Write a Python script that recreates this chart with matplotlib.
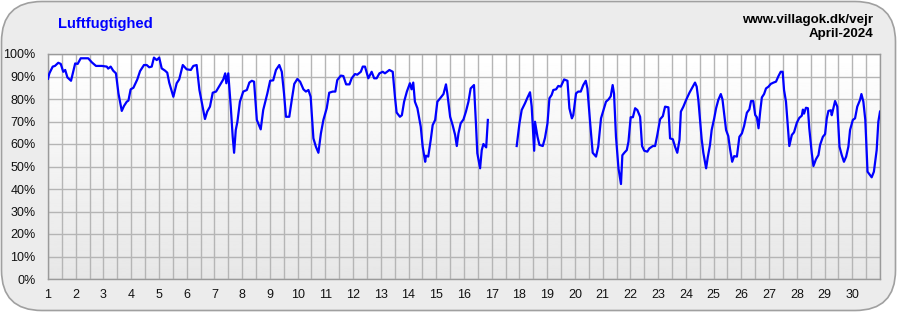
"""
Luftfugtighed, April 2024 (villagok.dk/vejr) - humidity line chart.
"""

import numpy as np
import matplotlib
matplotlib.use("Agg")
import matplotlib.pyplot as plt
from matplotlib.patches import FancyBboxPatch

plt.rcParams["font.family"] = ["Liberation Sans", "DejaVu Sans"]

# day of month (fractional) and relative humidity (%)
DAYS_A = [
    1.00, 1.05, 1.17, 1.25, 1.37, 1.46, 1.55, 1.62, 1.70, 1.83, 1.91, 1.98,
    2.07, 2.18, 2.45, 2.58, 2.73, 2.94, 3.12, 3.17, 3.26, 3.35, 3.45, 3.54,
    3.66, 3.74, 3.84, 3.90, 3.98, 4.08, 4.22, 4.32, 4.46, 4.56, 4.65, 4.74,
    4.82, 4.92, 5.01, 5.10, 5.22, 5.30, 5.37, 5.52, 5.64, 5.73, 5.86, 6.00,
    6.15, 6.24, 6.36, 6.46, 6.54, 6.66, 6.74, 6.84, 6.94, 7.06, 7.20, 7.32,
    7.39, 7.43, 7.50, 7.59, 7.66, 7.71, 7.77, 7.83, 7.92, 8.04, 8.17, 8.26,
    8.35, 8.43, 8.53, 8.67, 8.76, 8.91, 9.01, 9.12, 9.22, 9.34, 9.43, 9.51,
    9.58, 9.70, 9.79, 9.88, 9.99, 10.09, 10.21, 10.30, 10.39, 10.47, 10.57,
    10.66, 10.75, 10.84, 10.93, 11.05, 11.14, 11.27, 11.36, 11.43, 11.56,
    11.65, 11.75, 11.87, 11.95, 12.07, 12.15, 12.28, 12.35, 12.43, 12.55,
    12.67, 12.76, 12.85, 12.95, 13.07, 13.15, 13.31, 13.43, 13.51, 13.57,
    13.69, 13.76, 13.84, 13.94, 14.05, 14.11, 14.17, 14.23, 14.32, 14.44,
    14.51, 14.60, 14.63, 14.71, 14.80, 14.87, 14.96, 15.04, 15.14, 15.26,
    15.35, 15.40, 15.50, 15.59, 15.68, 15.74, 15.80, 15.88, 15.98, 16.07,
    16.16, 16.24, 16.36, 16.43, 16.48, 16.58, 16.64, 16.70, 16.80, 16.86,
]
HUM_A = [
    89.0, 91.4, 94.4, 94.7, 96.1, 95.6, 92.1, 92.9, 89.6, 88.1, 92.1, 95.8,
    95.6, 98.1, 98.1, 96.3, 94.7, 94.7, 94.4, 93.5, 94.4, 92.6, 91.4, 82.5,
    74.7, 76.9, 78.8, 79.3, 84.3, 85.0, 88.7, 92.4, 95.1, 95.1, 94.1, 94.4,
    98.4, 97.3, 98.4, 93.6, 92.6, 91.7, 87.3, 81.0, 87.0, 88.7, 95.1, 93.2,
    92.9, 94.7, 95.1, 84.0, 78.8, 71.1, 74.4, 76.6, 82.8, 83.3, 86.2, 88.7,
    91.4, 87.0, 91.4, 76.6, 63.2, 56.1, 66.2, 69.9, 78.8, 83.3, 84.0, 87.3,
    88.1, 87.7, 70.7, 66.5, 75.1, 82.5, 88.1, 88.3, 92.9, 95.1, 92.1, 82.5,
    72.1, 72.1, 79.6, 86.7, 88.9, 87.7, 84.3, 83.3, 84.0, 81.0, 62.5,
    58.8, 56.1, 64.7, 70.7, 75.9, 82.8, 83.3, 83.3, 88.4, 90.4,
    90.2, 86.5, 86.5, 89.2, 91.1, 90.8, 92.1, 94.4, 94.4, 89.2,
    92.1, 89.2, 89.2, 91.4, 92.1, 91.4, 92.9, 92.1, 81.0, 74.0,
    72.1, 72.8, 78.8, 83.3, 87.0, 84.3, 87.3, 78.8, 75.9, 67.7,
    58.8, 52.1, 54.8, 54.4, 61.8, 68.4, 70.7, 78.8, 80.3, 82.2,
    86.5, 82.4, 72.1, 68.4, 64.0, 59.1, 64.7, 69.2, 70.9, 74.4,
    78.8, 84.7, 86.2, 69.2, 55.9, 49.2, 57.3, 60.0, 58.5, 70.7,
]

DAYS_B = [
    17.90, 18.00, 18.08, 18.20, 18.28, 18.38, 18.44, 18.53, 18.56, 18.65,
    18.72, 18.84, 18.92, 19.01, 19.08, 19.16, 19.22, 19.32, 19.40, 19.49,
    19.61, 19.73, 19.80, 19.89, 19.94, 20.04, 20.12, 20.21, 20.30, 20.39,
    20.45, 20.55, 20.64, 20.76, 20.84, 20.94, 21.03, 21.12, 21.21, 21.29,
    21.36, 21.41, 21.48, 21.57, 21.66, 21.71, 21.78, 21.87, 21.93, 22.01,
    22.09, 22.17, 22.25, 22.35, 22.42, 22.50, 22.61, 22.68, 22.81, 22.89,
    22.97, 23.07, 23.17, 23.25, 23.37, 23.43, 23.53, 23.61, 23.69, 23.77,
    23.82, 23.91, 24.01, 24.13, 24.25, 24.33, 24.39, 24.45, 24.51, 24.57,
    24.63, 24.73, 24.79, 24.87, 24.93, 25.02, 25.09, 25.17, 25.26, 25.32,
    25.38, 25.45, 25.53, 25.59, 25.67, 25.74, 25.84, 25.93, 26.02, 26.10,
    26.20, 26.29, 26.35, 26.43, 26.50, 26.56, 26.62, 26.68, 26.74, 26.82,
    26.89, 26.98, 27.06, 27.16, 27.25, 27.34, 27.42, 27.49, 27.54, 27.61,
    27.73, 27.82, 27.90, 28.00, 28.09, 28.18, 28.22, 28.26, 28.33, 28.40,
    28.45, 28.54, 28.60, 28.69, 28.78, 28.84, 28.94, 29.02, 29.08, 29.14,
    29.23, 29.26, 29.32, 29.38, 29.46, 29.54, 29.62, 29.70, 29.78, 29.86,
    29.92, 30.02, 30.10, 30.18, 30.28, 30.33, 30.40, 30.47, 30.55, 30.64,
    30.70, 30.78, 30.88, 30.94, 31.00,
]
HUM_B = [
    59.1, 69.2, 75.1, 78.1, 80.4, 83.0, 76.7, 57.0, 69.9, 63.2,
    59.6, 59.1, 62.7, 69.2, 80.3, 81.8, 84.0, 84.3, 85.8, 85.5,
    88.7, 88.1, 75.9, 71.4, 72.8, 82.5, 83.3, 83.3, 86.2, 88.1,
    84.7, 69.2, 56.1, 54.4, 58.8, 71.4, 75.1, 78.8, 79.8, 81.2,
    86.2, 82.4, 63.2, 49.2, 42.2, 55.0, 56.1, 57.3, 61.0, 71.9,
    71.9, 75.9, 75.1, 72.1, 59.1, 57.0, 56.6, 58.0, 59.1, 59.1,
    64.0, 71.0, 72.4, 76.6, 76.3, 62.5, 62.1, 58.8, 56.1, 61.8,
    74.4, 76.6, 79.6, 82.8, 85.5, 87.3, 85.5, 79.6, 70.7, 62.1,
    56.1, 49.2, 54.1, 59.6, 66.2, 71.3, 75.9, 79.6, 82.2, 79.8,
    73.6, 66.2, 63.5, 58.0, 52.1, 54.6, 54.4, 63.2, 64.7, 68.0,
    73.9, 75.4, 79.1, 79.1, 72.9, 71.9, 67.0, 74.4, 80.7, 82.2,
    84.7, 85.5, 86.7, 87.3, 87.7, 90.2, 92.1, 92.1, 84.0, 78.8,
    59.1, 64.0, 65.2, 69.4, 71.6, 72.6, 75.3, 73.5, 76.1, 75.9,
    67.0, 55.9, 50.2, 53.2, 55.1, 59.6, 63.2, 64.4, 71.3, 74.7,
    75.0, 72.8, 75.9, 79.1, 76.6, 58.8, 55.1, 52.1, 54.4, 58.8,
    66.2, 70.7, 71.4, 76.6, 79.6, 82.2, 78.8, 70.7, 47.7, 46.2,
    45.2, 47.7, 57.3, 69.9, 74.4,
]

DAY_TICKS = list(range(1, 31))
Y_TICKS = list(range(0, 101, 10))
TITLE = "Luftfugtighed"
SITE = "www.villagok.dk/vejr"
MONTH = "April-2024"

W, H = 897, 312
fig = plt.figure(figsize=(W / 100, H / 100), dpi=100)
fig.patch.set_facecolor("white")

# rounded grey card behind everything
card = FancyBboxPatch((1.5 / W, 1.5 / H), 1 - 3 / W, 1 - 3 / H,
                      boxstyle="round,pad=0,rounding_size=0.045",
                      transform=fig.transFigure, facecolor="#ececec",
                      edgecolor="#a0a0a0", linewidth=1.2, zorder=-10,
                      mutation_aspect=W / H)
fig.patches.append(card)

left, right, top, bottom = 48, 880, 54, 279
ax = fig.add_axes([left / W, 1 - bottom / H, (right - left) / W, (bottom - top) / H])

# vertical gradient background in the plot area
grad = np.linspace(1.0, 0.905, 256).reshape(-1, 1)
ax.imshow(grad, extent=[1, 31, 0, 100], aspect="auto", cmap="gray",
          vmin=0, vmax=1, zorder=0, origin="upper")

ax.set_xlim(1, 31)
ax.set_ylim(0, 100)
ax.set_xticks(np.arange(1, 31.01, 0.5), minor=True)
ax.set_xticks(DAY_TICKS)
ax.set_xticklabels([str(d) for d in DAY_TICKS])
ax.set_yticks(Y_TICKS)
ax.set_yticklabels([f"{v}%" for v in Y_TICKS])
ax.grid(True, which="both", color="#b5b5b5", linewidth=1.0, zorder=1)
ax.set_axisbelow(True)
ax.tick_params(which="both", length=0, labelsize=9, colors="#111111")
ax.tick_params(axis="x", pad=7.5)
ax.tick_params(axis="y", pad=9)
for s in ax.spines.values():
    s.set_color("#9a9a9a")
    s.set_linewidth(1.0)

days = DAYS_A + [np.nan] + DAYS_B
hum = HUM_A + [np.nan] + HUM_B
ax.plot(days, hum, color="#0000ff", linewidth=1.6, zorder=3,
        solid_joinstyle="round")

fig.text(58 / W, 1 - 24 / H, TITLE, color="#0000ff", fontsize=10.6,
         fontweight="bold", ha="left", va="center")
fig.text(873 / W, 1 - 20 / H, SITE, color="black", fontsize=9.6,
         fontweight="bold", ha="right", va="center")
fig.text(873 / W, 1 - 34 / H, MONTH, color="black", fontsize=9.6,
         fontweight="bold", ha="right", va="center")

fig.savefig("out.png", dpi=100)
